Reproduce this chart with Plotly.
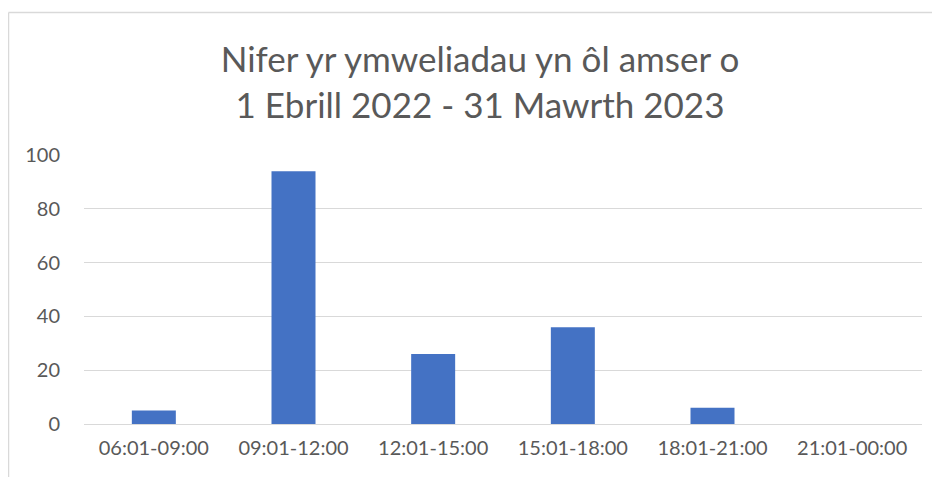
import plotly.graph_objects as go

categories = ["06:01-09:00", "09:01-12:00", "12:01-15:00", "15:01-18:00", "18:01-21:00", "21:01-00:00"]
values = [5, 94, 26, 36, 6, 0]
y_ticks = [0, 20, 40, 60, 80, 100]
title_lines = ["Nifer yr ymweliadau yn ôl amser o", "1 Ebrill 2022 - 31 Mawrth 2023"]

FONT = "Lato"
TEXT = "#595959"
GRID = "#d9d9d9"

# the page body has an 8px margin, so figure coords = screen coords - 8
OFF = 8
W, H = 940, 477
L_s, R_s, T_s, B_s = 84, 922, 155, 424  # plot area in screen coords
L, T = L_s - OFF, T_s - OFF
R = W - (R_s - OFF)
B = H - (B_s - OFF)
pw, ph = W - L - R, H - T - B

def px_x(xs):
    return (xs - OFF - L) / pw

def px_y(ys):
    return (H - B - (ys - OFF)) / ph

fig = go.Figure(go.Bar(x=categories, y=values, marker_color="#4472C4",
                       marker_line_width=0, hoverinfo="x+y"))

fig.update_layout(
    width=W, height=H,
    margin=dict(l=L, r=R, t=T, b=B, pad=0),
    paper_bgcolor="white", plot_bgcolor="white",
    bargap=0.685,
    showlegend=False,
    title=dict(text="<br>".join(title_lines), x=(480 - OFF) / W, xanchor="center",
               y=1 - 64 / H, yanchor="middle",
               font=dict(family=FONT, size=35, color=TEXT)),
    font=dict(family=FONT, size=20, color=TEXT),
    xaxis=dict(showgrid=False, showline=False, ticks="", tickfont=dict(size=20, color=TEXT),
               ticklabelstandoff=10),
    yaxis=dict(range=[0, 100], tickvals=y_ticks, showgrid=True, gridcolor=GRID, gridwidth=1,
               zeroline=True, zerolinecolor=GRID, zerolinewidth=1, showline=False, ticks="",
               tickfont=dict(size=20, color=TEXT), ticklabelstandoff=23),
    shapes=[
        dict(type="line", xref="paper", yref="paper", x0=px_x(8.5), x1=px_x(8.5),
             y0=px_y(12.5), y1=px_y(H + 20), line=dict(color=GRID, width=1.5)),
        dict(type="line", xref="paper", yref="paper", x0=px_x(8.5), x1=px_x(W + 20),
             y0=px_y(12.5), y1=px_y(12.5), line=dict(color=GRID, width=1.5)),
    ],
)

fig.write_html("out.html")
